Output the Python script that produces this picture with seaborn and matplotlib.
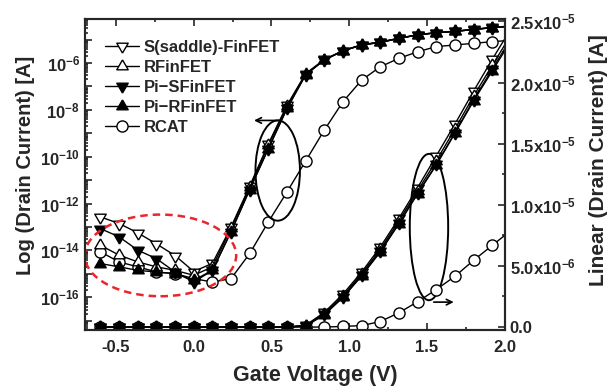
import numpy as np
import pandas as pd
import matplotlib
matplotlib.use("Agg")
import matplotlib.pyplot as plt
import matplotlib.ticker as mticker
from matplotlib.patches import Ellipse
import seaborn as sns

# gate voltage sweep (last point sits just outside the axis and gets clipped)
vg = [-0.6, -0.48, -0.36, -0.24, -0.12, 0.0, 0.12, 0.24, 0.36, 0.48, 0.6, 0.72,
      0.84, 0.96, 1.08, 1.2, 1.32, 1.44, 1.56, 1.68, 1.8, 1.92, 2.04]

# log10 of drain current [A], left axis
log_s = [-12.57, -12.85, -13.25, -13.72, -14.22, -14.9, -14.55, -13.0, -11.25, -9.45, -7.8, -6.45,
         -5.85, -5.47, -5.22, -5.1, -4.94, -4.79, -4.7, -4.64, -4.56, -4.48, -4.42]
log_r = [-13.78, -14.2, -14.49, -14.7, -14.85, -15.06, -14.7, -13.05, -11.3, -9.5, -7.85, -6.48,
         -5.86, -5.48, -5.23, -5.11, -4.95, -4.8, -4.71, -4.65, -4.57, -4.49, -4.43]
log_pis = [-13.07, -13.42, -13.99, -14.35, -14.92, -15.35, -14.85, -13.2, -11.4, -9.65, -7.94, -6.5,
           -5.87, -5.48, -5.23, -5.12, -4.95, -4.8, -4.71, -4.65, -4.57, -4.49, -4.43]
log_pir = [-14.56, -14.7, -14.85, -14.92, -14.99, -15.27, -14.85, -13.2, -11.4, -9.65, -7.94, -6.5,
           -5.87, -5.48, -5.23, -5.12, -4.95, -4.8, -4.71, -4.65, -4.57, -4.49, -4.43]
log_rcat = [-14.06, -14.49, -14.7, -14.92, -14.99, -15.2, -15.35, -15.2, -14.13, -12.78, -11.5, -10.18,
            -8.86, -7.65, -6.73, -6.16, -5.8, -5.52, -5.3, -5.23, -5.16, -5.09, -5.03]

# linear drain current [uA], right axis
lin_s = [0, 0, 0, 0, 0, 0, 0, 0, 0, 0, 0, 0.15,
         1.2, 2.7, 4.5, 6.55, 8.9, 11.4, 14.0, 16.6, 19.3, 21.9, 24.4]
lin_r = [0, 0, 0, 0, 0, 0, 0, 0, 0, 0, 0, 0.12,
         1.1, 2.55, 4.35, 6.35, 8.7, 11.15, 13.6, 16.2, 18.9, 21.4, 23.9]
lin_pis = [0, 0, 0, 0, 0, 0, 0, 0, 0, 0, 0, 0.1,
           1.05, 2.47, 4.23, 6.2, 8.5, 10.95, 13.3, 15.9, 18.6, 21.1, 23.6]
lin_pir = [0, 0, 0, 0, 0, 0, 0, 0, 0, 0, 0, 0.08,
           1.0, 2.42, 4.18, 6.15, 8.45, 10.9, 13.25, 15.85, 18.5, 20.95, 23.4]
lin_rcat = [0, 0, 0, 0, 0, 0, 0, 0, 0, 0, 0, 0,
            0.0, 0.05, 0.12, 0.45, 1.17, 2.07, 3.07, 4.15, 5.46, 6.68, 7.9]

names = ["S(saddle)-FinFET", "RFinFET", "Pi\u2212SFinFET", "Pi\u2212RFinFET", "RCAT"]

# triangles centred on their centroid, so an up and a down one overlap into a star
tri_down = [(0, -1), (0.866, 0.5), (-0.866, 0.5), (0, -1)]
tri_up = [(0, 1), (-0.866, -0.5), (0.866, -0.5), (0, 1)]
markers = [tri_down, tri_up, tri_down, tri_up, "o"]
sizes = [9.5, 9.5, 9.5, 9.5, 8]
faces = ["white", "white", "black", "black", "white"]

sns.set_style("ticks")
plt.rcParams["font.family"] = ["Liberation Sans", "DejaVu Sans"]
plt.rcParams["font.weight"] = "bold"
plt.rcParams["mathtext.fontset"] = "custom"
plt.rcParams["mathtext.rm"] = "Liberation Sans:bold"
plt.rcParams["mathtext.bf"] = "Liberation Sans:bold"
plt.rcParams["axes.linewidth"] = 1.5

fig = plt.figure(figsize=(6.11, 3.87), dpi=100)
ax = fig.add_axes([0.139, 0.147, 0.687, 0.804])
ax2 = ax.twinx()

logs = [log_s, log_r, log_pis, log_pir, log_rcat]
lins = [lin_s, lin_r, lin_pis, lin_pir, lin_rcat]
order = [4, 0, 1, 2, 3]  # RCAT underneath, filled markers on top

for i in order:
    style = dict(color="black", lw=1.0, marker=markers[i], markersize=sizes[i],
                 markerfacecolor=faces[i], markeredgecolor="black", markeredgewidth=1.0)
    sns.lineplot(x=vg, y=10 ** np.array(logs[i]), ax=ax, label=names[i], **style)
    sns.lineplot(x=vg, y=np.array(lins[i]) * 1e-6, ax=ax2, legend=False, **style)

ax.set_yscale("log")
ax.set_xlim(-0.7, 2.0)
ax.set_ylim(10 ** -17.4, 10 ** -4.12)
ax2.set_ylim(-2.5e-7, 2.52e-5)

ax.xaxis.set_major_locator(mticker.MultipleLocator(0.5))
ax.xaxis.set_minor_locator(mticker.MultipleLocator(0.25))
ax.xaxis.set_major_formatter(mticker.FormatStrFormatter("%.1f"))

ax.yaxis.set_major_locator(mticker.LogLocator(base=10, numticks=30))
ax.yaxis.set_minor_locator(mticker.LogLocator(base=10, subs=np.arange(2, 10), numticks=30))


def log_fmt(v, pos):
    e = int(round(np.log10(v)))
    return r"$\mathbf{10^{%d}}$" % e if e % 2 == 0 else ""


ax.yaxis.set_major_formatter(mticker.FuncFormatter(log_fmt))
ax.yaxis.set_minor_formatter(mticker.NullFormatter())


def lin_fmt(v, pos):
    if abs(v) < 1e-12:
        return "0.0"
    if v < 0:
        return ""
    e = int(np.floor(np.log10(v)))
    return r"$\mathbf{%.1fx10^{%d}}$" % (v / 10 ** e, e)


ax2.yaxis.set_major_locator(mticker.MultipleLocator(5e-6))
ax2.yaxis.set_minor_locator(mticker.MultipleLocator(2.5e-6))
ax2.yaxis.set_major_formatter(mticker.FuncFormatter(lin_fmt))

ax.tick_params(axis="both", which="both", direction="in", top=True, labelsize=12, width=1.2)
ax.tick_params(axis="x", pad=7)
ax.tick_params(which="major", length=5)
ax.tick_params(which="minor", length=2.5)
ax2.tick_params(axis="y", which="both", direction="in", labelsize=12, width=1.2)
ax2.tick_params(which="major", length=5)
ax2.tick_params(which="minor", length=2.5)
for lab in ax.get_xticklabels():
    lab.set_fontweight("bold")
for lab in ax2.get_yticklabels():
    lab.set_fontweight("bold")

ax.set_xlabel("Gate Voltage (V)", fontsize=15.5, fontweight="bold")
ax.xaxis.set_label_coords(0.548, -0.112)
ax.set_ylabel("Log (Drain Current) [A]", fontsize=14.5, fontweight="bold")
ax.yaxis.set_label_coords(-0.12, 0.53)
ax2.set_ylabel("Linear (Drain Current) [A]", fontsize=15, fontweight="bold", rotation=90)
ax2.yaxis.set_label_coords(1.2, 0.545)

# annotations: ellipses and arrows
ax2.add_patch(Ellipse((0.54, 12.8e-6), 0.286, 8.2e-6, fill=False, ec="black", lw=1.4))
ax2.annotate("", xy=(0.37, 16.9e-6), xytext=(0.565, 16.9e-6),
             arrowprops=dict(arrowstyle="->", lw=1.2, color="black"))
ax2.add_patch(Ellipse((1.513, 8.18e-6), 0.247, 11.97e-6, fill=False, ec="black", lw=1.4))
ax2.annotate("", xy=(1.69, 2.04e-6), xytext=(1.526, 2.04e-6),
             arrowprops=dict(arrowstyle="->", lw=1.2, color="black"))
ax2.add_patch(Ellipse((-0.214, 5.86e-6), 0.974, 6.68e-6, fill=False, ec="#e8262b", lw=1.8, ls=(0, (3, 2))))

if ax2.get_legend() is not None:
    ax2.get_legend().remove()
h, l = ax.get_legend_handles_labels()
hmap = dict(zip(l, h))
ax.legend([hmap[n] for n in names], names, loc="upper left", bbox_to_anchor=(0.025, 0.965),
          frameon=False, handlelength=2.0, handletextpad=0.3, labelspacing=0.3,
          borderaxespad=0.2, prop={"weight": "bold", "size": 12})

fig.savefig("out.png", dpi=100)
